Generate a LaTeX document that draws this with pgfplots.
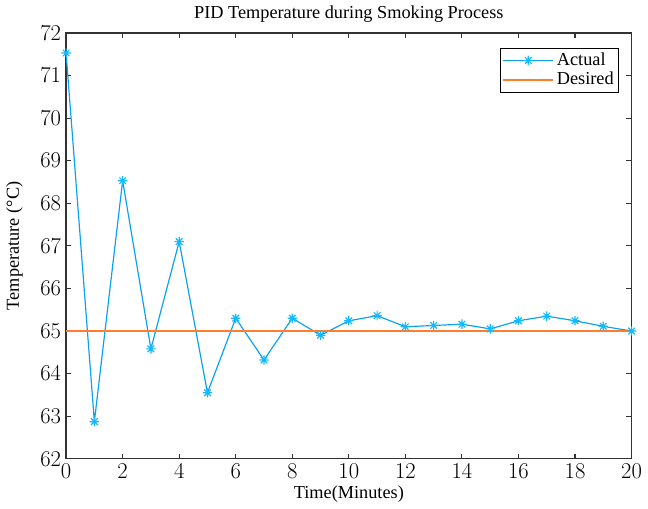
\documentclass[border=0pt]{standalone}
\usepackage{fontspec}
\setmainfont{Liberation Serif}
\usepackage{pgfplots}
\pgfplotsset{compat=1.18}
\definecolor{actline}{RGB}{10,160,240}
\definecolor{actmark}{RGB}{20,185,255}
\definecolor{axgray}{RGB}{50,50,50}
% MATLAB-style 8-point asterisk
\pgfdeclareplotmark{mstar}{%
  \pgfpathmoveto{\pgfqpoint{-\pgfplotmarksize}{0pt}}%
  \pgfpathlineto{\pgfqpoint{\pgfplotmarksize}{0pt}}%
  \pgfpathmoveto{\pgfqpoint{0pt}{-\pgfplotmarksize}}%
  \pgfpathlineto{\pgfqpoint{0pt}{\pgfplotmarksize}}%
  \pgfpathmoveto{\pgfqpoint{-0.7\pgfplotmarksize}{-0.7\pgfplotmarksize}}%
  \pgfpathlineto{\pgfqpoint{0.7\pgfplotmarksize}{0.7\pgfplotmarksize}}%
  \pgfpathmoveto{\pgfqpoint{-0.7\pgfplotmarksize}{0.7\pgfplotmarksize}}%
  \pgfpathlineto{\pgfqpoint{0.7\pgfplotmarksize}{-0.7\pgfplotmarksize}}%
  \pgfusepathqstroke}
\begin{document}
\fontsize{14}{16}\selectfont
\begin{tikzpicture}
\begin{axis}[
    width=433pt, height=326pt,
    scale only axis,
    xmin=0, xmax=20, ymin=62, ymax=72,
    xtick={0,2,...,20}, ytick={62,63,...,72},
    xticklabel={\textrm{\pgfmathprintnumber{\tick}}},
    yticklabel={\textrm{\pgfmathprintnumber{\tick}}},
    tick align=inside,
    major tick length=4pt,
    axis line style={axgray, line width=1pt},
    every tick/.style={axgray, line width=0.8pt},
    tick label style={font=\fontsize{16}{18}\selectfont},
    xlabel={Time(Minutes)},
    ylabel={Temperature (°C)},
    title={PID Temperature during Smoking Process},
    title style={yshift=-3pt},
    xlabel style={yshift=4pt},
    ylabel style={yshift=4pt},
    xticklabel style={yshift=1pt},
    yticklabel style={xshift=1pt},
    legend style={at={(0.977,0.965)}, anchor=north east, draw=black,
        inner sep=1.5pt, font=\fontsize{14}{15}\selectfont,
        row sep=-1pt},
    legend cell align=left,
    legend image code/.code={
        \draw[#1] (0cm,0cm) -- (1.35cm,0cm);
        \draw[#1, only marks] plot coordinates {(0.675cm,0cm)};
    },
]
\addplot[draw=actline, line width=0.9pt, mark=mstar, mark size=3.6pt,
    mark options={draw=actmark, line width=0.9pt},
    legend image post style={draw=actline, line width=1pt}] coordinates {
    (0,71.53) (1,62.87) (2,68.53) (3,64.58) (4,67.10) (5,63.55)
    (6,65.30) (7,64.32) (8,65.30) (9,64.90) (10,65.24) (11,65.36)
    (12,65.10) (13,65.13) (14,65.16) (15,65.05) (16,65.24) (17,65.35)
    (18,65.24) (19,65.11) (20,65.00)
};
\addlegendentry{Actual}
\addplot[draw={rgb,255:red,255;green,125;blue,45}, line width=1.3pt, mark=none,
    legend image post style={draw={rgb,255:red,255;green,125;blue,45}, line width=1.3pt}]
    coordinates {(0,65) (20,65)};
\addlegendentry{Desired}
\end{axis}
\end{tikzpicture}
\end{document}
